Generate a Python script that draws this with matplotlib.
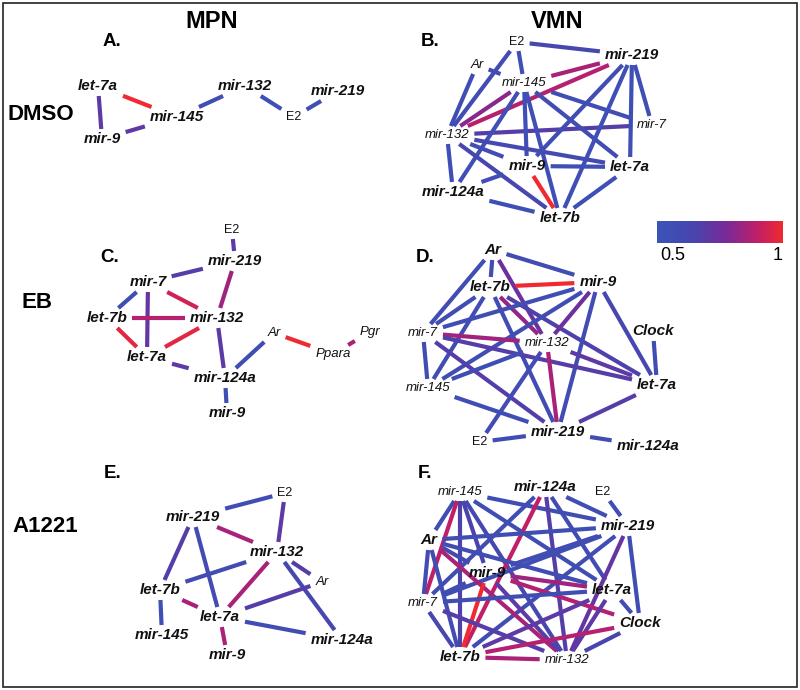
import numpy as np
import matplotlib
matplotlib.use('Agg')
import matplotlib.pyplot as plt
from matplotlib.colors import LinearSegmentedColormap
from matplotlib.patches import Rectangle

plt.rcParams['font.family'] = ['Liberation Sans', 'DejaVu Sans']

# correlation edges per panel: (node a, node b, r)
edges_A = [('let-7a', 'mir-145', 1.0), ('let-7a', 'mir-9', 0.70), ('mir-9', 'mir-145', 0.70),
           ('mir-145', 'mir-132', 0.56), ('mir-132', 'E2', 0.55), ('E2', 'mir-219', 0.55)]

edges_B = [('E2', 'mir-219', 0.62), ('E2', 'mir-132', 0.58), ('E2', 'mir-145', 0.55),
           ('Ar', 'mir-145', 0.58), ('Ar', 'mir-132', 0.56), ('mir-145', 'mir-219', 0.86),
           ('mir-132', 'mir-219', 0.88), ('mir-145', 'mir-132', 0.80), ('mir-132', 'mir-7', 0.68),
           ('mir-145', 'mir-124a', 0.55), ('mir-145', 'mir-9', 0.55), ('mir-145', 'let-7b', 0.55),
           ('mir-145', 'let-7a', 0.57), ('mir-145', 'mir-7', 0.56), ('mir-132', 'mir-9', 0.58),
           ('mir-132', 'let-7a', 0.60), ('mir-132', 'let-7b', 0.62), ('mir-132', 'mir-124a', 0.55),
           ('mir-9', 'let-7a', 0.55), ('mir-9', 'let-7b', 1.0), ('mir-9', 'mir-124a', 0.55),
           ('mir-219', 'mir-9', 0.56), ('mir-219', 'let-7b', 0.55), ('mir-219', 'let-7a', 0.55),
           ('mir-219', 'mir-7', 0.55), ('let-7a', 'let-7b', 0.55), ('mir-124a', 'let-7b', 0.55)]

edges_C = [('E2', 'mir-219', 0.70), ('mir-219', 'mir-7', 0.68), ('mir-219', 'mir-132', 0.84),
           ('mir-7', 'let-7b', 0.56), ('mir-7', 'let-7a', 0.72), ('mir-7', 'mir-132', 0.93),
           ('let-7b', 'mir-132', 0.88), ('let-7b', 'let-7a', 0.97), ('let-7a', 'mir-132', 0.97),
           ('let-7a', 'mir-124a', 0.70), ('mir-132', 'mir-124a', 0.70), ('mir-124a', 'Ar', 0.56),
           ('mir-124a', 'mir-9', 0.56), ('Ar', 'Ppara', 1.0), ('Ppara', 'Pgr', 0.86)]

edges_D = [('Ar', 'mir-9', 0.57), ('Ar', 'let-7b', 0.56), ('Ar', 'mir-132', 0.74),
           ('Ar', 'mir-7', 0.56), ('let-7b', 'mir-9', 1.0), ('let-7b', 'mir-7', 0.56),
           ('let-7b', 'mir-145', 0.56), ('let-7b', 'mir-219', 0.57), ('let-7b', 'mir-132', 0.82),
           ('let-7b', 'let-7a', 0.66), ('mir-9', 'mir-7', 0.56), ('mir-9', 'mir-145', 0.56),
           ('mir-9', 'mir-132', 0.74), ('mir-9', 'mir-219', 0.57), ('mir-9', 'let-7a', 0.62),
           ('mir-7', 'mir-132', 0.84), ('mir-7', 'let-7a', 0.68), ('mir-7', 'mir-219', 0.68),
           ('mir-7', 'mir-145', 0.56), ('mir-132', 'let-7a', 0.70), ('mir-132', 'mir-145', 0.56),
           ('mir-132', 'mir-219', 0.86), ('mir-132', 'E2', 0.58), ('Clock', 'let-7a', 0.56),
           ('mir-145', 'mir-219', 0.56), ('let-7a', 'mir-219', 0.68), ('E2', 'mir-219', 0.56),
           ('mir-219', 'mir-124a', 0.57)]

edges_E = [('mir-219', 'E2', 0.56), ('E2', 'mir-132', 0.70), ('mir-219', 'mir-132', 0.85),
           ('mir-219', 'let-7b', 0.68), ('mir-219', 'let-7a', 0.58), ('mir-132', 'let-7b', 0.58),
           ('mir-132', 'let-7a', 0.86), ('mir-132', 'Ar', 0.68), ('mir-132', 'mir-124a', 0.62),
           ('let-7b', 'let-7a', 0.86), ('let-7b', 'mir-145', 0.55), ('let-7a', 'Ar', 0.68),
           ('let-7a', 'mir-9', 0.86), ('let-7a', 'mir-124a', 0.57)]

edges_F = [('mir-145', 'Ar', 0.56), ('mir-145', 'mir-7', 0.90), ('mir-145', 'let-7b', 0.66),
           ('mir-145', 'mir-9', 0.66), ('mir-145', 'mir-132', 0.62), ('mir-145', 'let-7a', 0.56),
           ('mir-145', 'mir-219', 0.56), ('mir-124a', 'mir-7', 0.56), ('mir-124a', 'let-7b', 0.90),
           ('mir-124a', 'mir-132', 0.68), ('mir-124a', 'let-7a', 0.58), ('mir-124a', 'mir-219', 0.56),
           ('E2', 'mir-219', 0.56), ('mir-219', 'Ar', 0.56), ('mir-219', 'mir-9', 0.56),
           ('mir-219', 'mir-7', 0.56), ('mir-219', 'let-7b', 0.57), ('mir-219', 'mir-132', 0.72),
           ('mir-219', 'Clock', 0.56), ('Ar', 'mir-9', 0.60), ('Ar', 'let-7a', 0.57),
           ('Ar', 'mir-7', 0.58), ('Ar', 'let-7b', 0.58), ('Ar', 'mir-132', 0.86),
           ('mir-9', 'let-7a', 0.84), ('mir-9', 'Clock', 0.88), ('mir-9', 'let-7b', 1.0),
           ('mir-9', 'mir-132', 0.70), ('mir-9', 'mir-7', 0.56), ('mir-7', 'let-7a', 0.56),
           ('mir-7', 'let-7b', 0.62), ('mir-7', 'mir-132', 0.68), ('let-7a', 'Clock', 0.58),
           ('let-7a', 'let-7b', 0.70), ('let-7a', 'mir-132', 0.70), ('Clock', 'let-7b', 0.88),
           ('Clock', 'mir-132', 0.64), ('let-7b', 'mir-132', 0.86)]

# layout of each network (pixel positions of the labels) and label style
# b = bold italic, i = italic, n = plain
layout_A = {'let-7a': (98, 86, 'b'), 'mir-9': (102, 139, 'b'), 'mir-145': (177, 117, 'b'),
            'mir-132': (245, 86, 'b'), 'E2': (294, 117, 'n'), 'mir-219': (338, 91, 'b')}
layout_B = {'E2': (517, 42, 'n'), 'mir-219': (632, 55, 'b'), 'Ar': (477, 65, 'i'),
            'mir-145': (524, 83, 'i'), 'mir-7': (652, 125, 'i'), 'mir-132': (447, 135, 'i'),
            'mir-9': (527, 166, 'b'), 'let-7a': (630, 167, 'b'), 'mir-124a': (453, 192, 'b'),
            'let-7b': (560, 218, 'b')}
layout_C = {'E2': (232, 230, 'n'), 'mir-219': (235, 261, 'b'), 'mir-7': (148, 282, 'b'),
            'let-7b': (107, 318, 'b'), 'mir-132': (217, 318, 'b'), 'let-7a': (147, 357, 'b'),
            'mir-124a': (225, 378, 'b'), 'mir-9': (227, 413, 'b'), 'Ar': (274, 333, 'i'),
            'Ppara': (333, 354, 'i'), 'Pgr': (370, 332, 'i')}
layout_D = {'Ar': (493, 250, 'b'), 'let-7b': (490, 287, 'b'), 'mir-9': (598, 282, 'b'),
            'Clock': (653, 331, 'b'), 'mir-7': (423, 333, 'i'), 'mir-132': (547, 343, 'i'),
            'let-7a': (657, 385, 'b'), 'mir-145': (428, 388, 'i'), 'mir-219': (558, 432, 'b'),
            'E2': (480, 442, 'n'), 'mir-124a': (648, 446, 'b')}
layout_E = {'E2': (285, 493, 'n'), 'mir-219': (193, 517, 'b'), 'mir-132': (277, 552, 'b'),
            'Ar': (322, 582, 'i'), 'let-7b': (160, 590, 'b'), 'let-7a': (220, 617, 'b'),
            'mir-145': (162, 635, 'b'), 'mir-9': (227, 655, 'b'), 'mir-124a': (342, 640, 'b')}
layout_F = {'mir-145': (460, 492, 'i'), 'mir-124a': (545, 487, 'b'), 'E2': (603, 492, 'n'),
            'mir-219': (628, 526, 'b'), 'Ar': (429, 540, 'b'), 'mir-9': (487, 573, 'b'),
            'let-7a': (612, 590, 'b'), 'mir-7': (423, 603, 'i'), 'Clock': (640, 623, 'b'),
            'let-7b': (460, 657, 'b'), 'mir-132': (567, 660, 'i')}

panels = [(layout_A, edges_A), (layout_B, edges_B), (layout_C, edges_C),
          (layout_D, edges_D), (layout_E, edges_E), (layout_F, edges_F)]

cmap = LinearSegmentedColormap.from_list(
    'corr', [(0, '#3a55b8'), (0.3, '#4a44ae'), (0.55, '#7a2a98'), (0.8, '#c01f68'), (1, '#f02a30')])
vmin, vmax = 0.5, 1.0

fig = plt.figure(figsize=(8, 6.9), dpi=100)
ax = fig.add_axes([0, 0, 1, 1])
ax.set_xlim(0, 800)
ax.set_ylim(690, 0)
ax.axis('off')

styles = {'b': dict(fontsize=11, fontweight='bold', fontstyle='italic'),
          'i': dict(fontsize=9.5, fontstyle='italic'),
          'n': dict(fontsize=9)}

# labels first, so their extents can be used to trim the edges
texts = []
for layout, edges in panels:
    tt = {}
    for name, (x, y, s) in layout.items():
        tt[name] = ax.text(x, y, name, ha='center', va='center', color='#111111', **styles[s])
    texts.append(tt)

fig.canvas.draw()
rend = fig.canvas.get_renderer()
inv = ax.transData.inverted()


def box(t, pad=5):
    bb = t.get_window_extent(rend)
    (x0, y0), (x1, y1) = inv.transform([[bb.x0, bb.y0], [bb.x1, bb.y1]])
    cx, cy = (x0 + x1) / 2, (y0 + y1) / 2
    return cx, cy, abs(x1 - x0) / 2 + pad, abs(y1 - y0) / 2 + pad - 2


for (layout, edges), tt in zip(panels, texts):
    for a, b, r in edges:
        ax_, ay, ahw, ahh = box(tt[a])
        bx, by, bhw, bhh = box(tt[b])
        dx, dy = bx - ax_, by - ay
        ta = min(ahw / abs(dx) if dx else np.inf, ahh / abs(dy) if dy else np.inf)
        tb = min(bhw / abs(dx) if dx else np.inf, bhh / abs(dy) if dy else np.inf)
        if ta + tb >= 1:
            continue
        col = cmap((r - vmin) / (vmax - vmin))
        ax.plot([ax_ + ta * dx, bx - tb * dx], [ay + ta * dy, by - tb * dy],
                color=col, lw=3, solid_capstyle='butt', zorder=1)

# titles
for lab, x in [('MPN', 212), ('VMN', 557)]:
    ax.text(x, 22, lab, ha='center', va='center', fontsize=17, fontweight='bold',
            family=['Liberation Sans Narrow', 'Liberation Sans'])
for lab, x, y in [('DMSO', 41, 114), ('EB', 37, 303), ('A1221', 45, 526)]:
    ax.text(x, y, lab, ha='center', va='center', fontsize=16, fontweight='bold')
for lab, x, y in [('A.', 112, 42), ('B.', 430, 42), ('C.', 110, 258),
                  ('D.', 425, 257), ('E.', 113, 474), ('F.', 425, 474)]:
    ax.text(x, y, lab, ha='center', va='center', fontsize=13.5, fontweight='bold')

# colour scale
grad = np.linspace(0, 1, 256).reshape(1, -1)
ax.imshow(grad, cmap=cmap, extent=(657, 783, 243, 221), aspect='auto', zorder=2)
ax.text(673, 255, '0.5', ha='center', va='center', fontsize=13)
ax.text(778, 255, '1', ha='center', va='center', fontsize=13)
ax.set_xlim(0, 800)
ax.set_ylim(690, 0)

ax.add_patch(Rectangle((3, 3), 794, 684, fill=False, lw=1.2, ec='#222222'))

fig.savefig('out.png', dpi=100)
